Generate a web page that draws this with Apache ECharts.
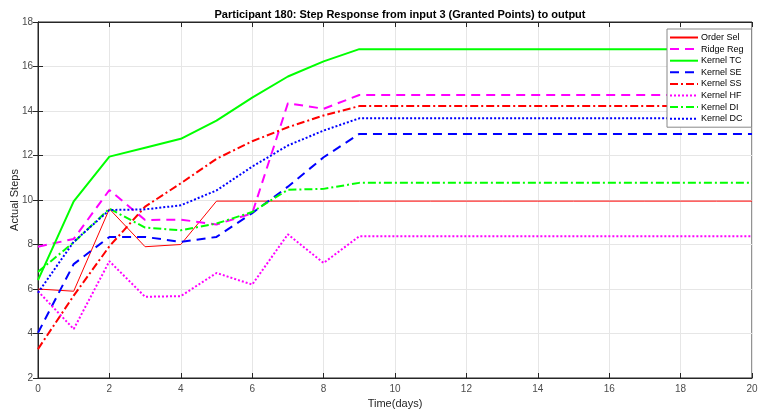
<!DOCTYPE html>
<html>
<head>
<meta charset="utf-8">
<script src="https://cdn.jsdelivr.net/npm/echarts@6/dist/echarts.min.js"></script>
<style>
  html, body { margin: 0; padding: 0; background: #fff; }
  #chart { width: 759px; height: 413px; }
</style>
</head>
<body>
<div id="chart"></div>
<script>
// Time steps (days) 0..20
const days = Array.from({ length: 21 }, (_, i) => i);

// Step responses; every model settles after day 9
const orderSel  = [6.0, 5.9, 9.6, 7.9, 8.0, 9.95, 9.95, 9.95, 9.95, 9.95];
const ridgeReg  = [7.9, 8.25, 10.45, 9.1, 9.12, 8.9, 9.4, 14.35, 14.1, 14.72];
const kernelTC  = [6.4, 9.94, 11.95, 12.35, 12.75, 13.57, 14.6, 15.55, 16.23, 16.78];
const kernelSE  = [4.03, 7.12, 8.34, 8.34, 8.12, 8.34, 9.41, 10.6, 11.92, 12.97];
const kernelSS  = [3.3, 5.7, 7.92, 9.7, 10.75, 11.85, 12.64, 13.27, 13.8, 14.22];
const kernelHF  = [5.9, 4.2, 7.25, 5.65, 5.68, 6.72, 6.2, 8.46, 7.17, 8.37];
const kernelDI  = [6.77, 8.1, 9.61, 8.76, 8.64, 8.94, 9.46, 10.46, 10.5, 10.77];
const kernelDC  = [5.83, 8.12, 9.55, 9.58, 9.76, 10.43, 11.5, 12.45, 13.12, 13.67];

const xTicks = [0, 2, 4, 6, 8, 10, 12, 14, 16, 18, 20];
const yTicks = [2, 4, 6, 8, 10, 12, 14, 16, 18];

// hold the final value through day 20
function extend(vals) {
  const out = vals.slice();
  while (out.length < days.length) out.push(vals[vals.length - 1]);
  return out.map((v, i) => [days[i], v]);
}

const seriesDefs = [
  { name: 'Order Sel', data: orderSel, color: '#ff0000', width: 1, type: 'solid' },
  { name: 'Ridge Reg', data: ridgeReg, color: '#ff00ff', width: 2, type: [9, 6] },
  { name: 'Kernel TC', data: kernelTC, color: '#00ff00', width: 2, type: 'solid' },
  { name: 'Kernel SE', data: kernelSE, color: '#0000ff', width: 2, type: [9, 6] },
  { name: 'Kernel SS', data: kernelSS, color: '#ff0000', width: 2, type: [8, 3, 2, 3] },
  { name: 'Kernel HF', data: kernelHF, color: '#ff00ff', width: 2, type: [2, 2] },
  { name: 'Kernel DI', data: kernelDI, color: '#00ff00', width: 2, type: [8, 3, 2, 3] },
  { name: 'Kernel DC', data: kernelDC, color: '#0000ff', width: 2, type: [2, 2] }
];

const axisColor = '#262626';
const labelColor = '#4d4d4d';
const font = 'Liberation Sans, Arial, sans-serif';

const chart = echarts.init(document.getElementById('chart'), null, { renderer: 'canvas' });

chart.setOption({
  animation: false,
  backgroundColor: '#fff',
  title: {
    text: 'Participant 180: Step Response from input 3 (Granted Points) to output',
    left: 395, top: 4, textAlign: 'center',
    textStyle: { fontFamily: font, fontSize: 11, fontWeight: 'bold', color: '#000' }
  },
  grid: {
    left: 38, right: 7, top: 22, bottom: 35,
    outerBoundsMode: 'none', containLabel: false,
    show: true, borderColor: axisColor, borderWidth: 1
  },
  legend: {
    orient: 'vertical',
    left: 667, top: 29,
    itemWidth: 28, itemHeight: 10, itemGap: 2.6,
    padding: [4, 8, 4, 2],
    backgroundColor: '#fff',
    borderColor: '#888', borderWidth: 1,
    itemStyle: { opacity: 0 },
    textStyle: { fontFamily: font, fontSize: 9, color: '#000', padding: [0, 0, 0, -2] },
    data: seriesDefs.map(s => s.name)
  },
  xAxis: [
    {
      type: 'value', min: 0, max: 20, interval: 2,
      name: 'Time(days)', nameLocation: 'middle', nameGap: 20,
      nameTextStyle: { fontFamily: font, fontSize: 11, color: axisColor },
      axisLine: { lineStyle: { color: axisColor } },
      axisTick: { inside: true, length: 5, lineStyle: { color: axisColor } },
      axisLabel: { fontFamily: font, fontSize: 10, color: labelColor, margin: 6 },
      splitLine: { show: true, lineStyle: { color: '#e6e6e6' } }
    },
    {
      type: 'value', position: 'top', min: 0, max: 20, interval: 2,
      axisLine: { lineStyle: { color: axisColor } },
      axisTick: { inside: true, length: 5, lineStyle: { color: axisColor } },
      axisLabel: { show: false }, splitLine: { show: false }
    }
  ],
  yAxis: [
    {
      type: 'value', min: 2, max: 18, interval: 2,
      name: 'Actual Steps', nameLocation: 'middle', nameGap: 18, nameMoveOverlap: false,
      nameTextStyle: { fontFamily: font, fontSize: 11, color: axisColor },
      axisLine: { show: true, lineStyle: { color: axisColor } },
      axisTick: { show: true, inside: true, length: 5, lineStyle: { color: axisColor } },
      axisLabel: { fontFamily: font, fontSize: 10, color: labelColor, margin: 5 },
      splitLine: { show: true, lineStyle: { color: '#e6e6e6' } }
    },
    {
      type: 'value', position: 'right', min: 2, max: 18, interval: 2,
      axisLine: { show: true, lineStyle: { color: axisColor } },
      axisTick: { show: true, inside: true, length: 5, lineStyle: { color: axisColor } },
      axisLabel: { show: false }, splitLine: { show: false }
    }
  ],
  series: seriesDefs.map(s => ({
    name: s.name,
    type: 'line',
    xAxisIndex: 0, yAxisIndex: 0,
    data: extend(s.data),
    symbol: 'none',
    color: s.color,
    lineStyle: { color: s.color, width: s.width, type: s.type }
  }))
});
</script>
</body>
</html>
